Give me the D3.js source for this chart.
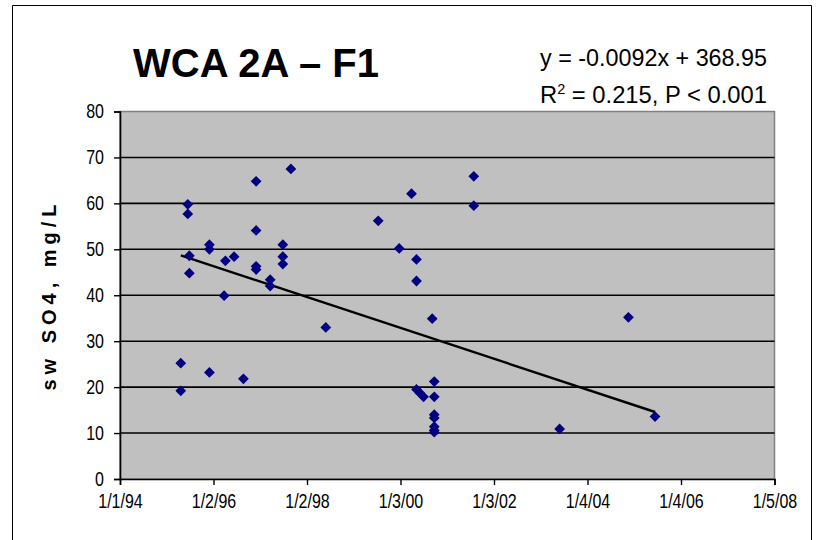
<!DOCTYPE html>
<html><head><meta charset="utf-8">
<script src="https://cdn.jsdelivr.net/npm/d3@7"></script>
<style>
html,body{margin:0;padding:0;background:#fff;}
svg{display:block;}
</style></head>
<body>
<script>
// ---- data ----
const sampleDates = [
 "1995-04-21","1995-04-21","1995-06-15","1995-06-15","1995-06-27","1995-06-27",
 "1995-12-01","1995-12-01","1995-12-01","1996-03-25","1996-04-04","1996-06-11",
 "1996-08-23","1996-11-30","1996-11-30","1996-11-30","1996-11-30","1997-03-20","1997-03-20",
 "1997-06-27","1997-06-27","1997-06-27","1997-08-29","1998-05-29","1999-07-13",
 "1999-12-24","2000-03-29","2000-05-07","2000-05-07","2000-05-07","2000-05-31",
 "2000-07-01","2000-09-07","2000-09-23","2000-09-23","2000-09-23","2000-09-23",
 "2000-09-23","2000-09-23","2000-09-23","2001-07-29","2001-07-29","2003-05-31",
 "2004-11-19","2005-06-15"];
const so4Values = [
 25.2,19.2,59.8,57.7,48.6,44.8,
 51.0,50.0,23.2,39.9,47.5,48.4,
 21.8,64.8,54.1,46.3,45.6,43.4,42.0,
 51.0,48.4,46.8,67.5,33.0,56.2,
 50.2,62.1,47.8,43.1,19.5,18.8,
 17.9,34.9,21.2,17.9,14.0,13.3,
 11.4,10.6,10.2,65.9,59.5,10.9,
 35.2,13.6];
const yTicks = [0,10,20,30,40,50,60,70,80];
const xTickLabels = ["1/1/94","1/2/96","1/2/98","1/3/00","1/3/02","1/4/04","1/4/06","1/5/08"];
// trendline as printed on the chart (x = Excel date serial)
const trendSlope = -0.0092;
const trendIntercept = 368.95;
const titleText = "WCA 2A \u2013 F1";
const eqLine1 = "y = -0.0092x + 368.95";
const rsqText = " = 0.215, P < 0.001";
const yAxisTitle = "sw SO4, mg/L";

// ---- layout ----
const W = 816, H = 540;
const plot = {left:120, top:111.5, right:774.5, bottom:479};

const parseD = d3.utcParse("%Y-%m-%d");
const parseTick = d3.utcParse("%m/%d/%y");
const tickDates = xTickLabels.map(parseTick);
const pts = sampleDates.map((d,i)=>({date:parseD(d), v:so4Values[i]}));

const x = d3.scaleUtc().domain([tickDates[0], tickDates[tickDates.length-1]]).range([plot.left, plot.right]);
const y = d3.scaleLinear().domain([0,80]).range([plot.bottom, plot.top]);

const svg = d3.select("body").append("svg").attr("width",W).attr("height",H);

// outer frame
svg.append("path").attr("d",`M12.5,${H} V5.5 H811.5 V${H}`).attr("fill","none").attr("stroke","#000").attr("stroke-width",1);

// plot background
svg.append("rect").attr("x",plot.left).attr("y",plot.top)
  .attr("width",plot.right-plot.left).attr("height",plot.bottom-plot.top)
  .attr("fill","#c0c0c0").attr("stroke","#808080").attr("stroke-width",1.5);

// gridlines
svg.append("g").selectAll("line").data(yTicks.filter(t=>t>0 && t<80)).join("line")
  .attr("x1",plot.left).attr("x2",plot.right)
  .attr("y1",d=>y(d)).attr("y2",d=>y(d))
  .attr("stroke","#000").attr("stroke-width",1.6);

const tickFont = "'Liberation Sans',Arial,sans-serif";
function condense(sel, k){
  sel.each(function(){
    const len = this.getComputedTextLength();
    d3.select(this).attr("textLength", len*k).attr("lengthAdjust","spacingAndGlyphs");
  });
}

// y axis
const yAxis = d3.axisLeft(y).tickValues(yTicks).tickSize(6).tickPadding(10).tickFormat(d3.format("d"));
const gy = svg.append("g").attr("transform",`translate(${plot.left},0)`).call(yAxis);
gy.select(".domain").attr("stroke","#000").attr("stroke-width",1.6);
gy.selectAll(".tick line").attr("stroke","#000").attr("stroke-width",1.4);
gy.selectAll("text").attr("font-family",tickFont).attr("font-size",20).attr("fill","#000").call(condense,0.8);

// x axis
const xAxis = d3.axisBottom(x).tickValues(tickDates).tickSize(6).tickPadding(9)
  .tickFormat((d,i)=>xTickLabels[i]);
const gx = svg.append("g").attr("transform",`translate(0,${plot.bottom})`).call(xAxis);
gx.select(".domain").attr("stroke","#000").attr("stroke-width",1.6);
gx.selectAll(".tick line").attr("stroke","#000").attr("stroke-width",1.4);
gx.selectAll("text").attr("font-family",tickFont).attr("font-size",20).attr("fill","#000").call(condense,0.8);

// trendline
const excelEpoch = Date.UTC(1899,11,30);
const serial = d => (d.getTime()-excelEpoch)/86400000;
const ext = d3.extent(pts, p=>p.date);
const trendPts = ext.map(d=>({date:d, v: trendSlope*serial(d)+trendIntercept}));
svg.append("path").datum(trendPts)
  .attr("d", d3.line().x(p=>x(p.date)).y(p=>y(p.v)))
  .attr("fill","none").attr("stroke","#000").attr("stroke-width",2.4);

// markers
const diamond = d3.symbol().type(d3.symbolSquare).size(58);
svg.append("g").selectAll("path").data(pts).join("path")
  .attr("d", diamond)
  .attr("transform", p=>`translate(${x(p.date)},${y(p.v)}) rotate(45)`)
  .attr("fill","#000080");

// title
svg.append("text").attr("x",133).attr("y",77).text(titleText)
  .attr("font-family","'Liberation Sans',Arial,sans-serif").attr("font-weight","bold")
  .attr("font-size",40).attr("fill","#000");

// equation
const eqFont = "'Liberation Sans',Arial,sans-serif";
svg.append("text").attr("x",540).attr("y",66).text(eqLine1)
  .attr("font-family",eqFont).attr("font-size",23).attr("fill","#000")
  .attr("textLength",227).attr("lengthAdjust","spacingAndGlyphs");
const t2 = svg.append("text").attr("x",540).attr("y",103)
  .attr("font-family",eqFont).attr("font-size",23).attr("fill","#000")
  .attr("textLength",227).attr("lengthAdjust","spacingAndGlyphs");
t2.append("tspan").text("R");
t2.append("tspan").text("2").attr("font-size",14).attr("dy",-9);
t2.append("tspan").text(rsqText).attr("dy",9);

// y axis title
svg.append("text").attr("transform","translate(56,295) rotate(-90)")
  .attr("text-anchor","middle").text(yAxisTitle)
  .attr("font-family","'Liberation Sans',Arial,sans-serif").attr("font-weight","bold")
  .attr("font-size",20).attr("letter-spacing",5).attr("fill","#000");
</script>
</body></html>
